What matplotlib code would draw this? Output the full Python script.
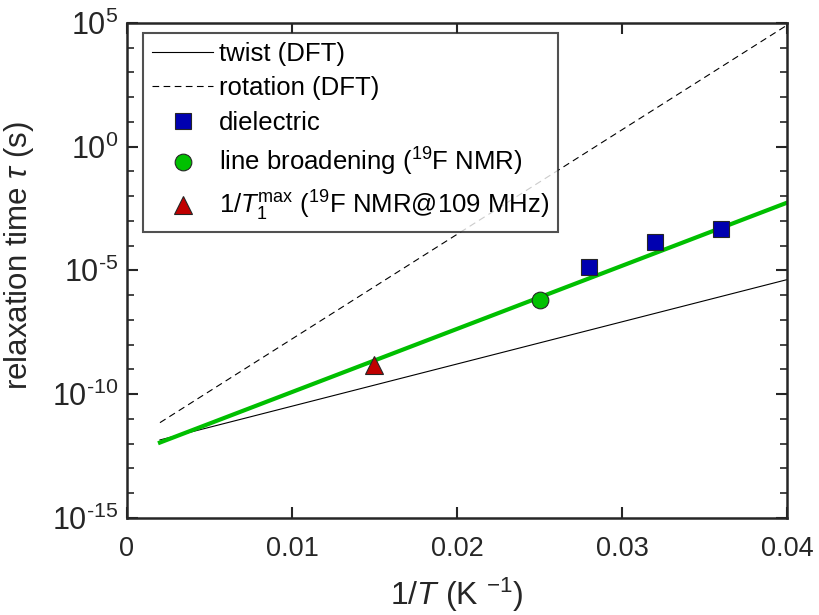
import matplotlib
matplotlib.use("Agg")
import numpy as np
import matplotlib.pyplot as plt
from matplotlib.ticker import LogLocator, NullFormatter, FixedLocator, FuncFormatter

plt.rcParams['font.family'] = ['Liberation Sans', 'DejaVu Sans']
plt.rcParams['mathtext.fontset'] = 'custom'
plt.rcParams['mathtext.rm'] = 'Liberation Sans'
plt.rcParams['mathtext.it'] = 'Liberation Sans:italic'
plt.rcParams['mathtext.bf'] = 'Liberation Sans:bold'
plt.rcParams['axes.unicode_minus'] = False

# DFT model lines and fit (end points, 1/T in K^-1, tau in s)
x_line = [0.002, 0.04]
twist_tau = [1.4e-12, 4.2e-6]
rotation_tau = [7.0e-12, 8.0e4]
fit_tau = [1.1e-12, 5.4e-3]

# measured points
dielectric_x = [0.028, 0.032, 0.036]
dielectric_tau = [1.4e-5, 1.4e-4, 4.6e-4]
broadening_x = [0.025]
broadening_tau = [6.5e-7]
t1max_x = [0.015]
t1max_tau = [1.5e-9]

xticks = [0, 0.01, 0.02, 0.03, 0.04]
xticklabels = ['0', '0.01', '0.02', '0.03', '0.04']
yexps = [-15, -10, -5, 0, 5]


def pow10(v, pos):
    e = int(round(np.log10(v)))
    if e < 0:
        return r'$10^{\text{-}%d}$' % -e
    return r'$10^{%d}$' % e


fig = plt.figure(figsize=(8.19, 6.15), dpi=100)
ax = fig.add_axes([0.155, 0.158, 0.806, 0.805])

edge = '#262626'
ax.semilogy(x_line, twist_tau, color='black', lw=0.8, label='twist (DFT)')
ax.semilogy(x_line, rotation_tau, color='black', lw=0.8, ls=(0, (6, 4)),
            label='rotation (DFT)')
ax.semilogy(x_line, fit_tau, color='#00bf00', lw=3, label='_fit')
ax.semilogy(dielectric_x, dielectric_tau, ls='none', marker='s', ms=11,
            mfc='#0000b0', mec=edge, mew=0.8, label='dielectric')
ax.semilogy(broadening_x, broadening_tau, ls='none', marker='o', ms=12,
            mfc='#00c000', mec=edge, mew=0.8,
            label=r'line broadening ($^{19}$F NMR)')
ax.semilogy(t1max_x, t1max_tau, ls='none', marker='^', ms=13,
            mfc='#c00000', mec=edge, mew=0.8,
            label=r'1/$T_1^{\rm max}$ ($^{19}$F NMR@109 MHz)')

ax.set_xlim(0, 0.04)
ax.set_ylim(1e-15, 1e5)
ax.xaxis.set_major_locator(FixedLocator(xticks))
ax.set_xticklabels(xticklabels)
ax.yaxis.set_major_locator(FixedLocator([10.0 ** e for e in yexps]))
ax.yaxis.set_major_formatter(FuncFormatter(pow10))
ax.yaxis.set_minor_locator(LogLocator(base=10, subs=[1.0], numticks=40))
ax.yaxis.set_minor_formatter(NullFormatter())

ax.tick_params(which='both', direction='in', top=True, right=True,
               color=edge, labelcolor='#262626')
ax.tick_params(which='major', length=8, width=1.5)
ax.tick_params(which='minor', length=5, width=1.2)
ax.tick_params(axis='x', labelsize=19.5, pad=13)
ax.tick_params(axis='y', labelsize=22, pad=6)
for s in ax.spines.values():
    s.set_linewidth(1.8)
    s.set_color(edge)

ax.set_xlabel(r'1/$T$ (K $^{-1}$)', fontsize=23, color='#262626', labelpad=10)
ax.set_ylabel(r'relaxation time $\tau$ (s)', fontsize=22.5, color='#262626')
ax.yaxis.set_label_coords(-0.138, 0.53)

leg = ax.legend(loc='upper left', bbox_to_anchor=(0.024, 0.98), fontsize=18.5,
                frameon=True, fancybox=False, handlelength=2.4,
                handletextpad=0.2, borderpad=0.35, labelspacing=0.42,
                borderaxespad=0)
leg.get_frame().set_edgecolor(edge)
leg.get_frame().set_linewidth(1.5)

fig.savefig('out.png', dpi=100)
